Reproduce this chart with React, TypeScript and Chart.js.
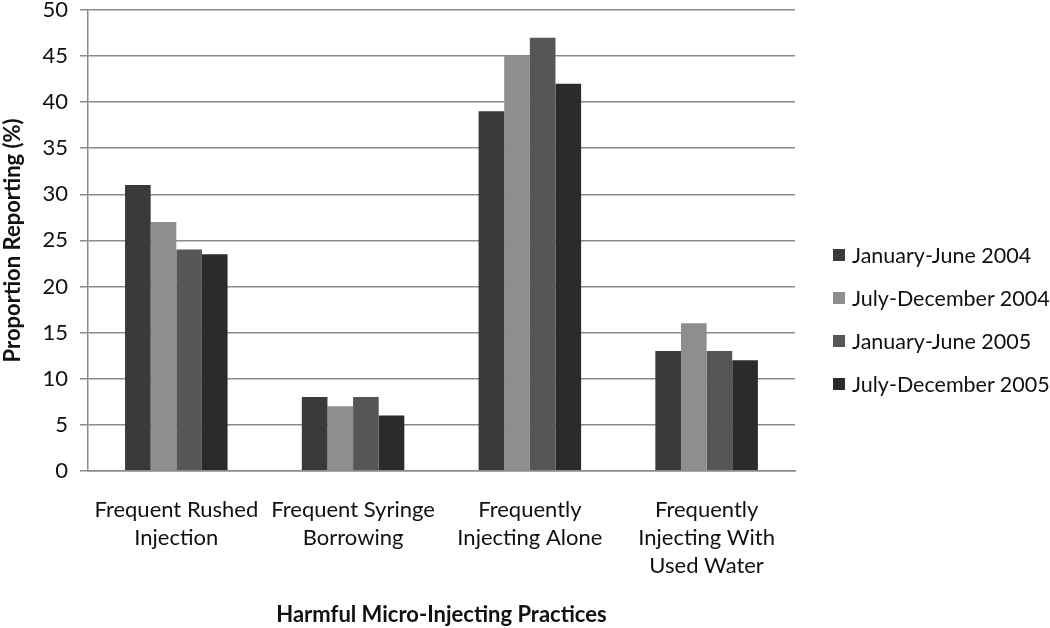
import React, { useEffect, useRef } from "react";
import { Chart, registerables } from "chart.js";

Chart.register(...registerables);

const categories: string[][] = [
  ["Frequent Rushed", "Injection"],
  ["Frequent Syringe", "Borrowing"],
  ["Frequently", "Injecting Alone"],
  ["Frequently", "Injecting With", "Used Water"],
];

const seriesNames = [
  "January-June 2004",
  "July-December 2004",
  "January-June 2005",
  "July-December 2005",
];

const janJun2004 = [31, 8, 39, 13];
const julDec2004 = [27, 7, 45, 16];
const janJun2005 = [24, 8, 47, 13];
const julDec2005 = [23.5, 6, 42, 12];

const seriesValues = [janJun2004, julDec2004, janJun2005, julDec2005];
const seriesColors = ["#3a3a3a", "#8e8e8e", "#565656", "#2b2b2b"];

const yTitle = "Proportion Reporting (%)";
const xTitle = "Harmful Micro-Injecting Practices";

const FONT = "Lato, 'Open Sans', sans-serif";

export default function App() {
  const ref = useRef<HTMLCanvasElement | null>(null);

  useEffect(() => {
    document.body.style.margin = "0";
    if (!ref.current) return;
    const chart = new Chart(ref.current, {
      type: "bar",
      data: {
        labels: categories,
        datasets: seriesNames.map((name, i) => ({
          label: name,
          data: seriesValues[i],
          backgroundColor: seriesColors[i],
          borderWidth: 0,
          categoryPercentage: 0.58,
          barPercentage: 1,
        })),
      },
      options: {
        animation: false,
        responsive: false,
        maintainAspectRatio: false,
        layout: { padding: { top: 0, right: 255, left: 0, bottom: 0 } },
        plugins: {
          legend: { display: false },
          tooltip: { enabled: false },
        },
        scales: {
          x: {
            grid: { display: false, tickLength: 8 },
            border: { display: true, color: "#8a8a8a", width: 1.5 },
            ticks: {
              color: "#111",
              font: { family: FONT, size: 22, lineHeight: 1.27 },
              maxRotation: 0,
              autoSkip: false,
              padding: 17,
            },
            title: {
              display: true,
              text: xTitle,
              color: "#111",
              font: { family: FONT, size: 22, weight: "bold" },
              padding: { top: 5, bottom: 0 },
            },
          },
          y: {
            min: 0,
            max: 50,
            afterFit: (scale: any) => {
              scale.paddingTop = 10;
            },
            ticks: {
              stepSize: 5,
              color: "#111",
              font: { family: FONT, size: 22 },
              padding: 12,
            },
            grid: {
              color: "#8a8a8a",
              lineWidth: 1.5,
              tickLength: 8,
              drawTicks: true,
            },
            border: { display: true, color: "#8a8a8a", width: 1.5 },
            title: {
              display: true,
              text: yTitle,
              color: "#111",
              font: { family: FONT, size: 22, weight: "bold" },
              padding: { top: 0, bottom: 4 },
            },
          },
        },
      },
    });
    return () => chart.destroy();
  }, []);

  return (
    <div style={{ position: "relative", width: 1050, height: 628, background: "#fff" }}>
      <canvas ref={ref} width={1050} height={628} style={{ display: "block" }} />
      <div
        style={{
          position: "absolute",
          left: 833,
          top: 233,
          fontFamily: FONT,
          fontSize: 21.5,
          color: "#111",
        }}
      >
        {seriesNames.map((name, i) => (
          <div
            key={name}
            style={{ display: "flex", alignItems: "center", height: 43, whiteSpace: "nowrap" }}
          >
            <span
              style={{
                display: "inline-block",
                width: 12,
                height: 12,
                background: seriesColors[i],
                marginRight: 7,
              }}
            />
            <span>{name}</span>
          </div>
        ))}
      </div>
    </div>
  );
}
